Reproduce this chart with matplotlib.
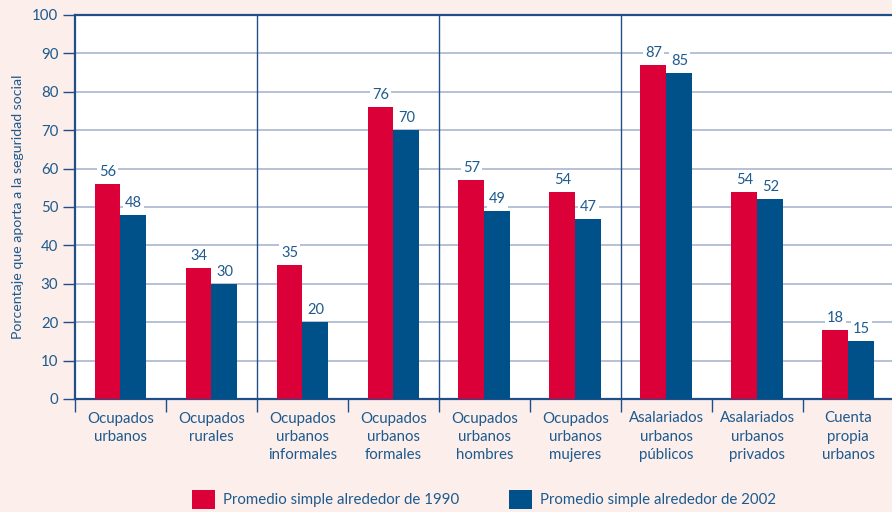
import numpy as np
import matplotlib.pyplot as plt
from matplotlib.ticker import FixedLocator

#-------------------------------------------------------------------------------------
categorias = ['Ocupados\nurbanos', 'Ocupados\nrurales', 'Ocupados\nurbanos\ninformales',
              'Ocupados\nurbanos\nformales', 'Ocupados\nurbanos\nhombres', 'Ocupados\nurbanos\nmujeres',
              'Asalariados\nurbanos\npúblicos', 'Asalariados\nurbanos\nprivados', 'Cuenta\npropia\nurbanos']
valores_1990 = [56, 34, 35, 76, 57, 54, 87, 54, 18]
valores_2002 = [48, 30, 20, 70, 49, 47, 85, 52, 15]
serie_1990 = 'Promedio simple alrededor de 1990'
serie_2002 = 'Promedio simple alrededor de 2002'

rojo = '#DC0039'
azul = '#00508A'
texto = '#1D5A8E'
fondo = '#FCEEEA'

plt.rcParams['font.family'] = ['Lato', 'DejaVu Sans']

#-------------------------------------------------------------------------------------
fig = plt.figure(figsize=(8.92, 5.12), dpi=100, facecolor=fondo)
ax = fig.add_axes([75/892, 1-399/512, 817/892, 384/512])
ax.set_facecolor('white')

x = np.arange(len(categorias))
w = 0.285
b1 = ax.bar(x - w/2, valores_1990, w, color=rojo, zorder=3, label=serie_1990)
b2 = ax.bar(x + w/2, valores_2002, w, color=azul, zorder=3, label=serie_2002)

for xi, v in zip(x - w/2, valores_1990):
    ax.text(xi, v + 1.3, str(v), ha='center', va='bottom', color=texto, fontsize=10.5, zorder=4,
            bbox=dict(facecolor='white', edgecolor='none', pad=1.5))
for xi, v in zip(x + w/2, valores_2002):
    ax.text(xi, v + 1.3, str(v), ha='center', va='bottom', color=texto, fontsize=10.5, zorder=4,
            bbox=dict(facecolor='white', edgecolor='none', pad=1.5))

# separadores verticales
for s in [1.5, 3.5, 5.5]:
    ax.axvline(s, color='#1F4E89', lw=1.0, zorder=2)

ax.set_xlim(-0.5, 8.48)
ax.set_ylim(0, 100)
ax.set_yticks(np.arange(0, 101, 10))
ax.yaxis.grid(True, color='#A9B6CE', lw=1.2, zorder=0)
ax.set_axisbelow(True)

ax.xaxis.set_major_locator(FixedLocator(np.arange(-0.5, 9, 1)))
ax.xaxis.set_minor_locator(FixedLocator(x))
ax.set_xticklabels([], minor=False)
ax.set_xticklabels(categorias, minor=True, fontsize=10.8, color=texto, linespacing=1.4)
ax.tick_params(axis='x', which='major', length=9, width=1, color='#1F4E89', direction='out')
ax.tick_params(axis='x', which='minor', length=0, pad=9)
ax.tick_params(axis='y', length=9, width=1, color='#1F4E89', labelsize=10.8, labelcolor=texto, pad=3)

for sp in ['left', 'top', 'bottom']:
    ax.spines[sp].set_color('#1F4E89')
    ax.spines[sp].set_linewidth(1.6)
ax.spines['right'].set_visible(False)

ax.set_ylabel('Porcentaje que aporta a la seguridad social', color=texto, fontsize=10.2)
ax.yaxis.set_label_coords(-51/817, 0.5)

fig.legend(handles=[b1, b2], loc='lower left', bbox_to_anchor=(178/892, -0.02), ncol=2,
           frameon=False, fontsize=10.8, labelcolor=texto, handlelength=1.55, handleheight=1.55,
           handletextpad=0.55, columnspacing=3.3)

plt.savefig('out.png', dpi=100, facecolor=fondo)
